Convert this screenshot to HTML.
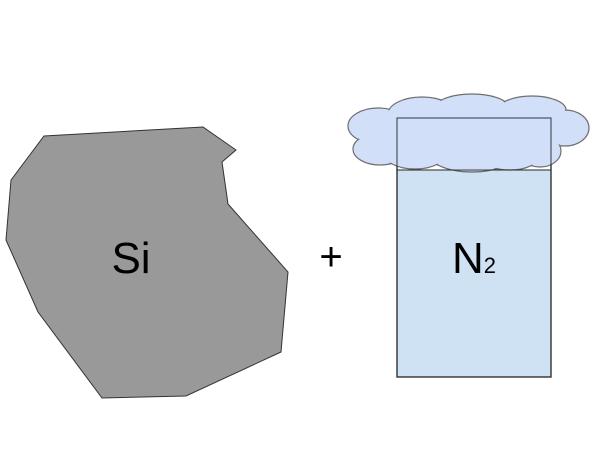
<!DOCTYPE html>
<html><head><meta charset="utf-8"><style>
html,body{margin:0;padding:0;background:#fff;width:600px;height:450px;overflow:hidden}
</style></head><body>
<svg width="600" height="450" viewBox="0 0 600 450">
  <polygon points="44,136 203,127 236,150 222,162 228,204 288,272 281,352 186,396 102,398 38,312 6,240 11,180" fill="#999999" stroke="#333" stroke-width="1"/>
  <text x="131" y="273" font-family="Liberation Sans, sans-serif" font-size="44" text-anchor="middle" fill="#000">Si</text>
  <text x="331" y="270" font-family="Liberation Sans, sans-serif" font-size="40" text-anchor="middle" fill="#000">+</text>
  <rect x="397" y="170" width="154" height="207" fill="#cfe2f3" stroke="#333" stroke-width="1"/>
  <rect x="397" y="118" width="154" height="259" fill="none" stroke="#222" stroke-width="1.3"/>
  <text x="452" y="273" font-family="Liberation Sans, sans-serif" font-size="44" fill="#000">N<tspan font-size="22" dy="0">2</tspan></text>
  <g opacity="0.85">
    <g fill="#c9daf8" stroke="#555" stroke-width="1.2">
      <ellipse cx="378" cy="126" rx="30" ry="18"/>
      <ellipse cx="380" cy="149" rx="27" ry="16"/>
      <ellipse cx="422" cy="114" rx="34" ry="17"/>
      <ellipse cx="472" cy="107" rx="36" ry="13"/>
      <ellipse cx="532" cy="110" rx="34" ry="14"/>
      <ellipse cx="565" cy="128" rx="24" ry="18"/>
      <ellipse cx="540" cy="151" rx="21" ry="16"/>
      <ellipse cx="472" cy="151" rx="46" ry="21"/>
      <ellipse cx="415" cy="151" rx="33" ry="18"/>
      <ellipse cx="510" cy="156" rx="29" ry="14"/>
    </g>
    <g fill="#c9daf8">
      <ellipse cx="378" cy="126" rx="29" ry="17"/>
      <ellipse cx="380" cy="149" rx="26" ry="15"/>
      <ellipse cx="422" cy="114" rx="33" ry="16"/>
      <ellipse cx="472" cy="107" rx="35" ry="12"/>
      <ellipse cx="532" cy="110" rx="33" ry="13"/>
      <ellipse cx="565" cy="128" rx="23" ry="17"/>
      <ellipse cx="540" cy="151" rx="20" ry="15"/>
      <ellipse cx="472" cy="151" rx="45" ry="20"/>
      <ellipse cx="415" cy="151" rx="32" ry="17"/>
      <ellipse cx="510" cy="156" rx="28" ry="13"/>
      <ellipse cx="470" cy="130" rx="100" ry="22"/>
    </g>
  </g>
  <rect x="397" y="118" width="154" height="52" fill="none" stroke="#222" stroke-width="1" opacity="0.8"/>
</svg>
</body></html>
